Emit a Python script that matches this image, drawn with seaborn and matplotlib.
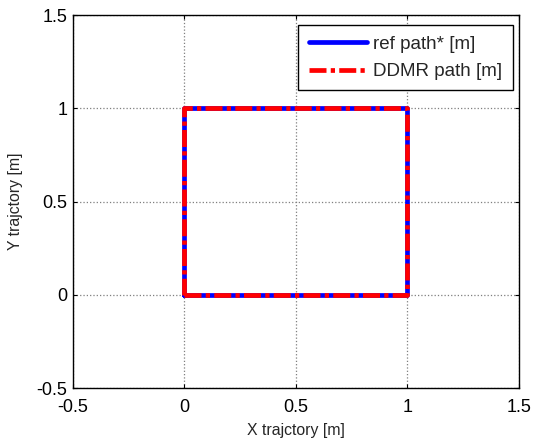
import matplotlib
matplotlib.use("Agg")
import matplotlib.pyplot as plt
import seaborn as sns
import pandas as pd

# Square trajectory (corners visited in order, closing back at the start)
ref_x = [0.0, 1.0, 1.0, 0.0, 0.0]
ref_y = [0.0, 0.0, 1.0, 1.0, 0.0]
ddmr_x = [0.0, 1.0, 1.0, 0.0, 0.0]
ddmr_y = [0.0, 0.0, 1.0, 1.0, 0.0]

x_ticks = [-0.5, 0, 0.5, 1, 1.5]
y_ticks = [-0.5, 0, 0.5, 1, 1.5]
tick_labels = ["-0.5", "0", "0.5", "1", "1.5"]

sns.set_theme(style="white")
plt.rcParams["font.family"] = ["Liberation Sans", "DejaVu Sans"]

ref_df = pd.DataFrame({"x": ref_x, "y": ref_y})
ddmr_df = pd.DataFrame({"x": ddmr_x, "y": ddmr_y})

fig = plt.figure(figsize=(5.34, 4.45), dpi=100)
ax = fig.add_axes([0.1367, 0.128, 0.835, 0.838])

sns.lineplot(data=ref_df, x="x", y="y", sort=False, estimator=None, ax=ax,
             color="#0000ff", linewidth=3.4, label="ref path* [m]")
sns.lineplot(data=ddmr_df, x="x", y="y", sort=False, estimator=None, ax=ax,
             color="#ff0000", linewidth=3.4, linestyle=(0, (3.6, 0.9, 0.9, 0.9)),
             label="DDMR path [m]")

ax.set_xlim(-0.5, 1.5)
ax.set_ylim(-0.5, 1.5)
ax.set_xticks(x_ticks)
ax.set_yticks(y_ticks)
ax.set_xticklabels(tick_labels, fontsize=13)
ax.set_yticklabels(tick_labels, fontsize=13)
ax.set_xlabel("X trajctory [m]", fontsize=11.4, labelpad=5)
ax.set_ylabel("Y trajctory [m]", fontsize=11.4, labelpad=10)

ax.grid(True, linestyle=":", color="#7f7f7f", linewidth=0.9)
ax.set_axisbelow(True)
for s in ax.spines.values():
    s.set_color("black")
    s.set_linewidth(1.0)
    s.set_visible(True)
ax.tick_params(direction="in", length=3, width=0.8, top=True, right=True,
               bottom=True, left=True, colors="black")
ax.tick_params(axis="x", pad=8)
ax.tick_params(axis="y", pad=4)

leg = ax.legend(loc="upper right", bbox_to_anchor=(0.9865, 0.973),
                borderaxespad=0, fontsize=13.5, frameon=True, fancybox=False,
                edgecolor="black", framealpha=1, handlelength=3.1,
                handletextpad=0.35, borderpad=0.55, labelspacing=0.55)
leg.get_frame().set_linewidth(1.0)
for h in leg.get_lines():
    h.set_linewidth(3.4)

fig.savefig("out.png", dpi=100, facecolor="white")
